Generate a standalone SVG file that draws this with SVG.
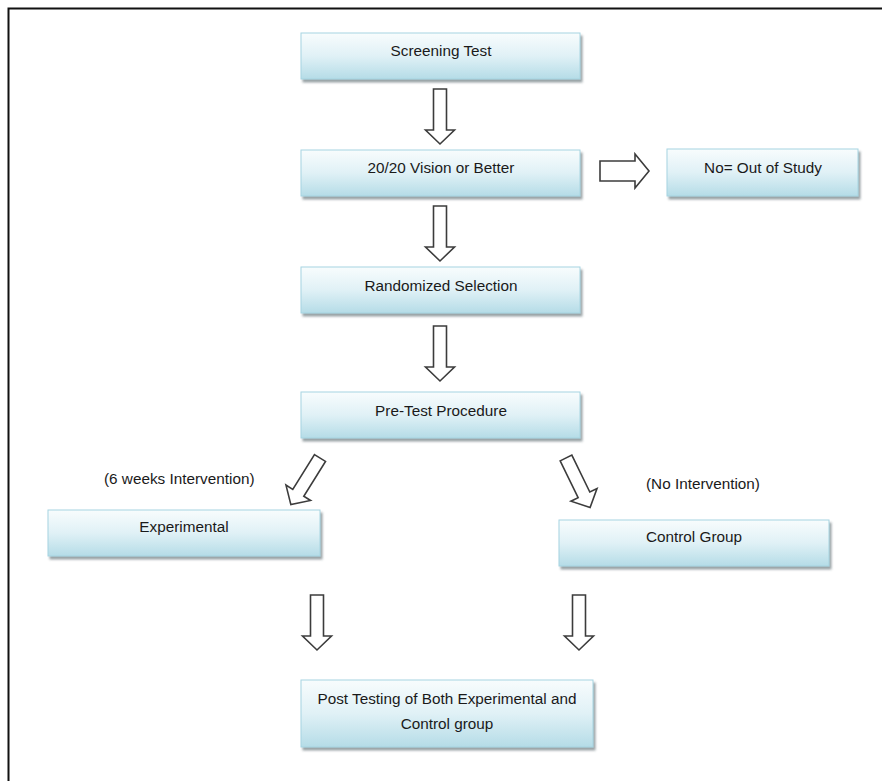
<svg xmlns="http://www.w3.org/2000/svg" width="882" height="781" viewBox="0 0 882 781">
<defs>
<linearGradient id="g" x1="0" y1="0" x2="0" y2="1">
<stop offset="0" stop-color="#f8fcfd"/>
<stop offset="0.5" stop-color="#e0f1f6"/>
<stop offset="1" stop-color="#b5dce7"/>
</linearGradient>
<filter id="sh" x="-5%" y="-10%" width="115%" height="140%">
<feDropShadow dx="2" dy="3" stdDeviation="1.2" flood-color="#55666b" flood-opacity="0.6"/>
</filter>
<polygon id="arr" points="-6.5,0 6.5,0 6.5,41 14.5,41 0,55 -14.5,41 -6.5,41"/>
</defs>
<style>
.box{fill:url(#g);stroke:#a6d4e1;stroke-width:1;filter:url(#sh)}
.t{font-family:"Liberation Sans",Arial,sans-serif;font-size:15.3px;fill:#1a1a1a;text-anchor:middle}
.lbl{font-family:"Liberation Sans",Arial,sans-serif;font-size:15.3px;fill:#1a1a1a}
.a{fill:#fff;stroke:#3c3c3c;stroke-width:1.6;stroke-linejoin:miter}
</style>
<rect width="882" height="781" fill="#fff"/>
<path d="M8.5,781 V8.5 H882" fill="none" stroke="#111" stroke-width="2"/>
<g id="connectors">
<use href="#arr" class="a" transform="translate(440,89)"/>
<use href="#arr" class="a" transform="translate(440,206)"/>
<use href="#arr" class="a" transform="translate(440,326)"/>
<polygon class="a" points="600,161 635,161 635,154 649,171 635,188 635,181 600,181"/>
<use href="#arr" class="a" transform="translate(320,458) rotate(32)"/>
<use href="#arr" class="a" transform="translate(566,458) rotate(-26)"/>
<use href="#arr" class="a" transform="translate(317,595)"/>
<use href="#arr" class="a" transform="translate(579,595)"/>
</g>
<g id="screening"><rect class="box" x="301" y="33" width="279" height="46"/><text class="t" x="441" y="56">Screening Test</text></g>
<g id="vision"><rect class="box" x="301" y="150" width="279" height="46"/><text class="t" x="441" y="173">20/20 Vision or Better</text></g>
<g id="out"><rect class="box" x="667" y="149" width="191" height="47"/><text class="t" x="763" y="173">No= Out of Study</text></g>
<g id="random"><rect class="box" x="301" y="267" width="279" height="46"/><text class="t" x="441" y="291">Randomized Selection</text></g>
<g id="pretest"><rect class="box" x="301" y="392" width="279" height="46"/><text class="t" x="441" y="416">Pre-Test Procedure</text></g>
<g id="experimental"><rect class="box" x="48" y="510" width="272" height="46"/><text class="t" x="184" y="532">Experimental</text></g>
<g id="control"><rect class="box" x="559" y="520" width="270" height="46"/><text class="t" x="694" y="542">Control Group</text></g>
<g id="post"><rect class="box" x="301" y="680" width="292" height="67"/><text class="t" x="447" y="704">Post Testing of Both Experimental and</text><text class="t" x="447" y="729">Control group</text></g>
<g id="labels">
<text class="lbl" x="104" y="484">(6 weeks Intervention)</text>
<text class="lbl" x="646" y="489">(No Intervention)</text>
</g>
</svg>
